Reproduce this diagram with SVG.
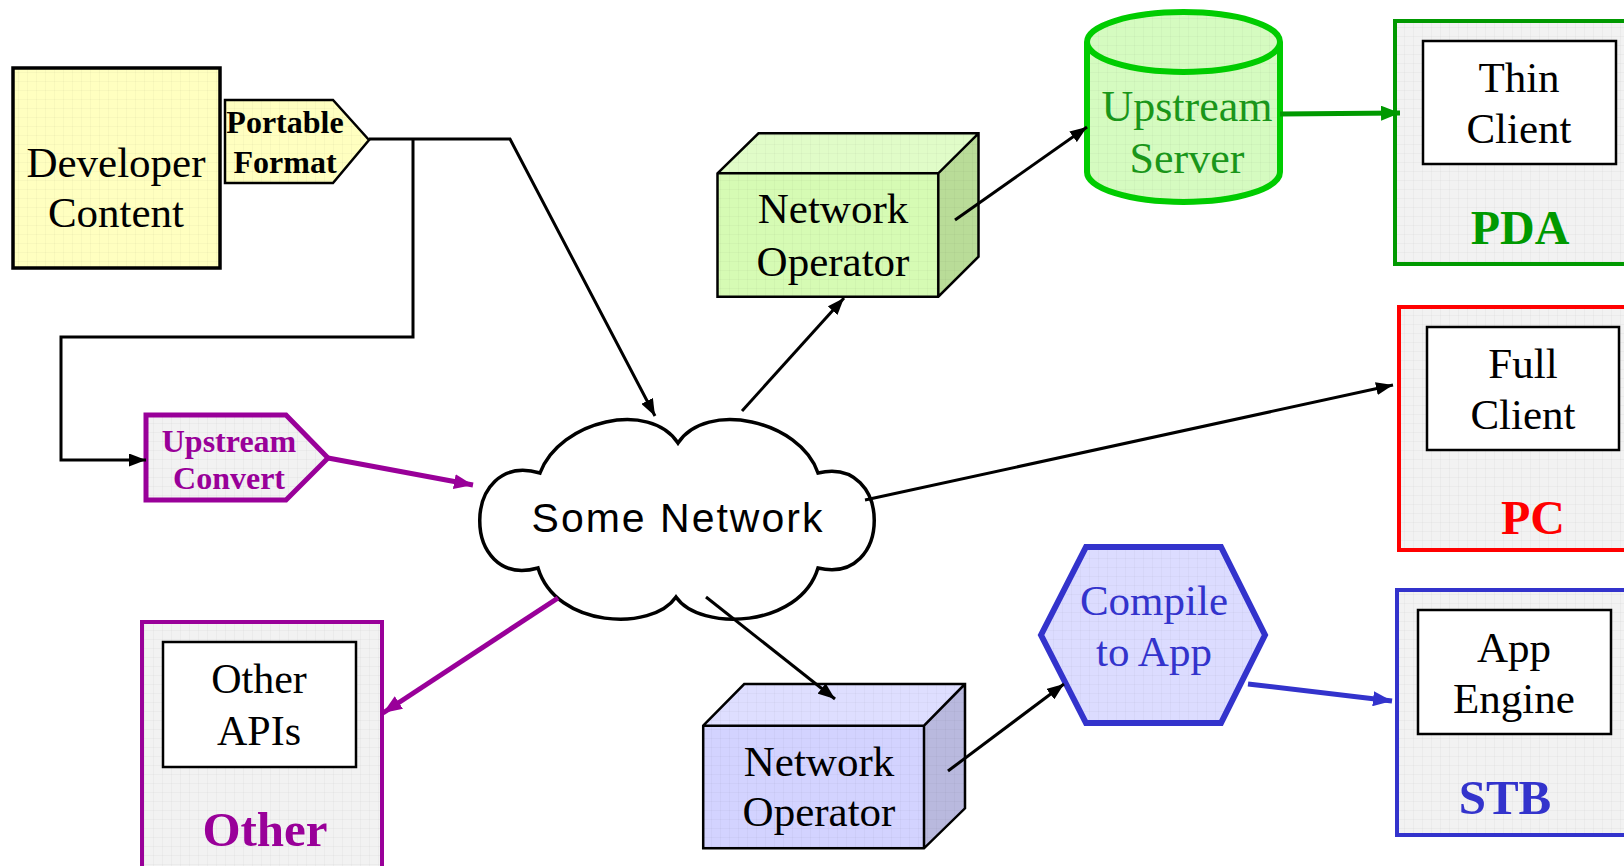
<svg xmlns="http://www.w3.org/2000/svg" width="1624" height="866" viewBox="0 0 1624 866">
<style>
.serif{font-family:"Liberation Serif","Times New Roman",serif;text-anchor:middle}
.sans{font-family:"Liberation Sans",Arial,sans-serif;text-anchor:middle}
.b{font-weight:bold}
.blk{fill:none;stroke:#000;stroke-width:3}
.pur{fill:none;stroke:#990099;stroke-width:5}
.grn{fill:none;stroke:#009900;stroke-width:5}
.blu{fill:none;stroke:#3333cc;stroke-width:5}
.inner{fill:#fff;stroke:#000;stroke-width:2.5}
.grid{fill:url(#grid)}
.lbl{font-size:48px}
</style>
<defs>
<pattern id="grid" width="9" height="9" patternUnits="userSpaceOnUse"><path d="M9 0H0V9" fill="none" stroke="#000" stroke-opacity="0.05" stroke-width="1"/></pattern>
<marker id="aK" markerUnits="userSpaceOnUse" markerWidth="17" markerHeight="13" refX="17" refY="6.5" orient="auto"><path d="M0,0L17,6.5L0,13z" fill="#000"/></marker>
<marker id="aP" markerUnits="userSpaceOnUse" markerWidth="19" markerHeight="15" refX="19" refY="7.5" orient="auto"><path d="M0,0L19,7.5L0,15z" fill="#990099"/></marker>
<marker id="aG" markerUnits="userSpaceOnUse" markerWidth="19" markerHeight="15" refX="19" refY="7.5" orient="auto"><path d="M0,0L19,7.5L0,15z" fill="#009900"/></marker>
<marker id="aB" markerUnits="userSpaceOnUse" markerWidth="19" markerHeight="15" refX="19" refY="7.5" orient="auto"><path d="M0,0L19,7.5L0,15z" fill="#3333cc"/></marker>
</defs>
<rect width="1624" height="866" fill="#fff"/>

<g id="developer-content">
<rect x="13" y="68" width="207" height="200" fill="#ffffc0"/>
<rect x="13" y="68" width="207" height="200" class="grid"/>
<rect x="13" y="68" width="207" height="200" fill="none" stroke="#000" stroke-width="3.5"/>
<text class="serif" x="116" y="177" font-size="43">Developer</text>
<text class="serif" x="116" y="227" font-size="43">Content</text>
</g>

<g id="portable-format">
<path d="M225,100H333L369,140L333,183H225Z" fill="#ffffc0"/>
<path d="M225,100H333L369,140L333,183H225Z" class="grid"/>
<path d="M225,100H333L369,140L333,183H225Z" fill="none" stroke="#000" stroke-width="2.5"/>
<text class="serif b" x="285" y="133" font-size="32">Portable</text>
<text class="serif b" x="285" y="173" font-size="32">Format</text>
</g>

<g id="upstream-convert">
<path d="M146,415H286L328,458L286,500H146Z" fill="#f2f2f2"/>
<path d="M146,415H286L328,458L286,500H146Z" class="grid"/>
<path d="M146,415H286L328,458L286,500H146Z" fill="none" stroke="#990099" stroke-width="5"/>
<text class="serif b" x="229" y="452" font-size="32" fill="#990099">Upstream</text>
<text class="serif b" x="229" y="489" font-size="32" fill="#990099">Convert</text>
</g>

<g id="some-network">
<path d="M540,473C560,420 650,400 678,443C706,400 800,420 818,473C893,455 893,586 818,568C800,628 700,632 676,597C652,632 556,628 538,568C460,590 460,450 540,473Z" fill="#fff" stroke="#000" stroke-width="3.5"/>
<text class="sans" x="678" y="532" font-size="41" letter-spacing="2">Some Network</text>
</g>

<g id="network-operator-top">
<path d="M717.5,173.3L758.5,133.3H978.5L938.3,173.3Z" fill="#e0fcc8"/>
<path d="M938.3,173.3L978.5,133.3V256.7L938.3,296.7Z" fill="#b9dc98"/>
<rect x="717.5" y="173.3" width="220.8" height="123.4" fill="#d6fbb4"/>
<path d="M717.5,173.3L758.5,133.3H978.5V256.7L938.3,296.7H717.5Z" class="grid"/>
<path d="M717.5,173.3L758.5,133.3H978.5V256.7L938.3,296.7H717.5ZM717.5,173.3H938.3L978.5,133.3M938.3,173.3V296.7" fill="none" stroke="#000" stroke-width="2.5"/>
<text class="serif" x="833" y="223" font-size="43">Network</text>
<text class="serif" x="833" y="276" font-size="43">Operator</text>
</g>

<g id="upstream-server">
<path d="M1087,42A96.5,30 0 0 1 1280,42V172A96.5,30 0 0 1 1087,172Z" fill="#d5fbc0"/>
<path d="M1087,42A96.5,30 0 0 1 1280,42V172A96.5,30 0 0 1 1087,172Z" class="grid"/>
<path d="M1087,42A96.5,30 0 0 1 1280,42V172A96.5,30 0 0 1 1087,172ZM1087,42A96.5,30 0 0 0 1280,42" fill="none" stroke="#00cc00" stroke-width="6"/>
<text class="serif" x="1187" y="121" font-size="44" fill="#1a961a">Upstream</text>
<text class="serif" x="1187" y="173" font-size="44" fill="#1a961a">Server</text>
</g>

<g id="pda">
<rect x="1395" y="21" width="250" height="243" fill="#f2f2f2"/>
<rect x="1395" y="21" width="250" height="243" class="grid"/>
<rect x="1395" y="21" width="250" height="243" fill="none" stroke="#009900" stroke-width="4"/>
<rect x="1423" y="41" width="193" height="123" class="inner"/>
<text class="serif" x="1519" y="92" font-size="43">Thin</text>
<text class="serif" x="1519" y="143" font-size="43">Client</text>
<text class="serif b lbl" x="1520" y="244" fill="#009900">PDA</text>
</g>

<g id="pc">
<rect x="1399" y="307" width="250" height="243" fill="#f2f2f2"/>
<rect x="1399" y="307" width="250" height="243" class="grid"/>
<rect x="1399" y="307" width="250" height="243" fill="none" stroke="#ff0000" stroke-width="4"/>
<rect x="1427" y="327" width="192" height="123" class="inner"/>
<text class="serif" x="1523" y="378" font-size="43">Full</text>
<text class="serif" x="1523" y="429" font-size="43">Client</text>
<text class="serif b lbl" x="1533" y="534" fill="#ff0000">PC</text>
</g>

<g id="stb">
<rect x="1397" y="590" width="250" height="245" fill="#f2f2f2"/>
<rect x="1397" y="590" width="250" height="245" class="grid"/>
<rect x="1397" y="590" width="250" height="245" fill="none" stroke="#3333cc" stroke-width="4"/>
<rect x="1418" y="610" width="193" height="124" class="inner"/>
<text class="serif" x="1514" y="662" font-size="43">App</text>
<text class="serif" x="1514" y="713" font-size="43">Engine</text>
<text class="serif b" x="1505" y="814" font-size="49" fill="#3333cc">STB</text>
</g>

<g id="compile-to-app">
<path d="M1041,635L1086,547H1221L1265,635L1221,723H1086Z" fill="#dcdcff"/>
<path d="M1041,635L1086,547H1221L1265,635L1221,723H1086Z" class="grid"/>
<path d="M1041,635L1086,547H1221L1265,635L1221,723H1086Z" fill="none" stroke="#3333cc" stroke-width="6"/>
<text class="serif" x="1154" y="615" font-size="43" fill="#3333cc">Compile</text>
<text class="serif" x="1154" y="666" font-size="43" fill="#3333cc">to App</text>
</g>

<g id="network-operator-bottom">
<path d="M703.2,725.7L744.2,684H965L924,725.7Z" fill="#dedeff"/>
<path d="M924,725.7L965,684V808.3L924,848.3Z" fill="#b9b9de"/>
<rect x="703.2" y="725.7" width="220.8" height="122.6" fill="#d3d3ff"/>
<path d="M703.2,725.7L744.2,684H965V808.3L924,848.3H703.2Z" class="grid"/>
<path d="M703.2,725.7L744.2,684H965V808.3L924,848.3H703.2ZM703.2,725.7H924L965,684M924,725.7V848.3" fill="none" stroke="#000" stroke-width="2.5"/>
<text class="serif" x="819" y="776" font-size="43">Network</text>
<text class="serif" x="819" y="826" font-size="43">Operator</text>
</g>

<g id="other">
<rect x="142" y="622" width="240" height="260" fill="#f2f2f2"/>
<rect x="142" y="622" width="240" height="260" class="grid"/>
<rect x="142" y="622" width="240" height="260" fill="none" stroke="#990099" stroke-width="4"/>
<rect x="163" y="642" width="193" height="125" class="inner"/>
<text class="serif" x="259" y="693" font-size="42">Other</text>
<text class="serif" x="259" y="745" font-size="42">APIs</text>
<text class="serif b" x="265" y="846" font-size="49" fill="#990099">Other</text>
</g>

<g id="connectors">
<path class="blk" d="M369,139H510L655,416" marker-end="url(#aK)"/>
<path class="blk" d="M413,139V337H61V460H146" marker-end="url(#aK)"/>
<path class="pur" d="M328,458L473,485" marker-end="url(#aP)"/>
<path class="blk" d="M742,411L844,298" marker-end="url(#aK)"/>
<path class="blk" d="M955,220L1087,127" marker-end="url(#aK)"/>
<path class="grn" d="M1280,114L1400,113" marker-end="url(#aG)"/>
<path class="blk" d="M865,500L1393,385" marker-end="url(#aK)"/>
<path class="pur" d="M558,598L383,713" marker-end="url(#aP)"/>
<path class="blk" d="M706,597L835,699" marker-end="url(#aK)"/>
<path class="blk" d="M948,771L1064,684" marker-end="url(#aK)"/>
<path class="blu" d="M1248,684L1392,701" marker-end="url(#aB)"/>
</g>
</svg>
